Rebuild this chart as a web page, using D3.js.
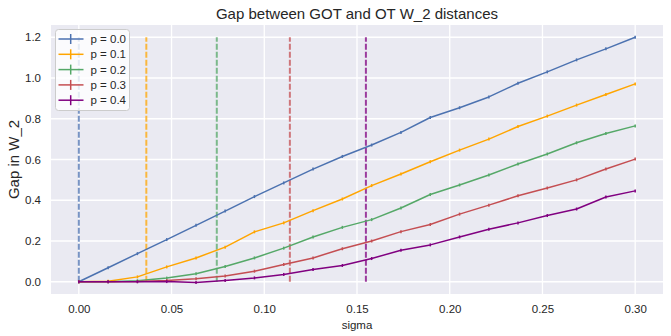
<!DOCTYPE html>
<html>
<head>
<meta charset="utf-8">
<title>Gap between GOT and OT W_2 distances</title>
<style>
  body { margin: 0; background: #ffffff; }
  text { font-family: "Liberation Sans", Arial, sans-serif; fill: #262626; }
</style>
</head>
<body>
<div id="container"></div>

<script src="https://d3js.org/d3.v7.min.js"></script>
<script>

// chart size and plot box
const width = 671;
const height = 336;
const margin = {left: 51, top: 25, right: 8, bottom: 42};

// sigma values (20 points from 0 to 0.3)
const sigmas = [0, 0.0158, 0.0316, 0.0474, 0.0632, 0.0789, 0.0947, 0.1105, 0.1263, 0.1421,
                0.1579, 0.1737, 0.1895, 0.2053, 0.2211, 0.2368, 0.2526, 0.2684, 0.2842, 0.3];

const labels = ["p = 0.0", "p = 0.1", "p = 0.2", "p = 0.3", "p = 0.4"];
const colors = ["#4c72b0", "#ffa500", "#55a868", "#c44e52", "#800080"];

const gap0 = [0, 0.069, 0.138, 0.207, 0.277, 0.347, 0.418, 0.485, 0.553, 0.615,
              0.671, 0.733, 0.806, 0.854, 0.907, 0.974, 1.030, 1.089, 1.143, 1.2];
const gap1 = [0, 0.002, 0.024, 0.073, 0.117, 0.170, 0.245, 0.289, 0.349, 0.406,
              0.472, 0.529, 0.589, 0.646, 0.700, 0.762, 0.813, 0.867, 0.919, 0.971];
const gap2 = [0, 0, 0.005, 0.018, 0.039, 0.075, 0.117, 0.165, 0.220, 0.267,
              0.305, 0.362, 0.428, 0.475, 0.524, 0.578, 0.627, 0.682, 0.728, 0.765];
const gap3 = [0, 0, 0.001, 0.006, 0.015, 0.028, 0.052, 0.085, 0.117, 0.162,
              0.200, 0.246, 0.281, 0.332, 0.376, 0.422, 0.460, 0.500, 0.553, 0.602];
const gap4 = [0, 0, 0, 0.001, -0.004, 0.006, 0.019, 0.036, 0.060, 0.080,
              0.114, 0.155, 0.181, 0.220, 0.258, 0.289, 0.325, 0.357, 0.416, 0.446];
const gaps = [gap0, gap1, gap2, gap3, gap4];

// critical sigma for each p (vertical dashed lines)
const critSigma = [0, 0.0364, 0.0744, 0.1138, 0.1548];

const xTicks = [0, 0.05, 0.10, 0.15, 0.20, 0.25, 0.30];
const yTicks = [0, 0.2, 0.4, 0.6, 0.8, 1.0, 1.2];

const innerW = width - margin.left - margin.right;
const innerH = height - margin.top - margin.bottom;

const x = d3.scaleLinear().domain([-0.015, 0.315]).range([0, innerW]);
const y = d3.scaleLinear().domain([-0.06, 1.26]).range([innerH, 0]);

const svg = d3.select("#container")
  .append("svg")
    .attr("width", width)
    .attr("height", height);

svg.append("text")
    .attr("x", margin.left + innerW / 2)
    .attr("y", 19)
    .attr("text-anchor", "middle")
    .style("font-size", "15px")
    .text("Gap between GOT and OT W_2 distances");

const g = svg.append("g")
    .attr("transform", `translate(${margin.left},${margin.top})`);

g.append("rect")
    .attr("width", innerW)
    .attr("height", innerH)
    .attr("fill", "#eaeaf2");

// grid
g.selectAll(".xgrid")
  .data(xTicks)
  .enter().append("line")
    .attr("x1", d => x(d)).attr("x2", d => x(d))
    .attr("y1", 0).attr("y2", innerH)
    .attr("stroke", "#ffffff").attr("stroke-width", 1.3);

g.selectAll(".ygrid")
  .data(yTicks)
  .enter().append("line")
    .attr("y1", d => y(d)).attr("y2", d => y(d))
    .attr("x1", 0).attr("x2", innerW)
    .attr("stroke", "#ffffff").attr("stroke-width", 1.3);

// axes (no tick marks, seaborn style)
const xAxis = g.append("g")
    .attr("transform", `translate(0,${innerH})`)
    .call(d3.axisBottom(x).tickValues(xTicks).tickFormat(d3.format(".2f")).tickSize(0).tickPadding(11));
const yAxis = g.append("g")
    .call(d3.axisLeft(y).tickValues(yTicks).tickFormat(d3.format(".1f")).tickSize(0).tickPadding(10));
[xAxis, yAxis].forEach(a => {
  a.select(".domain").remove();
  a.selectAll("text").style("font-size", "11.5px").style("fill", "#262626")
    .style("font-family", "Liberation Sans, Arial, sans-serif");
});

svg.append("text")
    .attr("x", margin.left + innerW / 2)
    .attr("y", 329)
    .attr("text-anchor", "middle")
    .style("font-size", "11.5px")
    .text("sigma");

svg.append("text")
    .attr("transform", `translate(19,${margin.top + y(0.6)}) rotate(-90)`)
    .attr("text-anchor", "middle")
    .style("font-size", "15px")
    .text("Gap in W_2");

// vertical dashed lines
g.selectAll(".crit")
  .data(critSigma)
  .enter().append("line")
    .attr("x1", d => x(d)).attr("x2", d => x(d))
    .attr("y1", y(0)).attr("y2", y(1.2))
    .attr("stroke", (d, i) => colors[i])
    .attr("stroke-opacity", 0.75)
    .attr("stroke-width", 2)
    .attr("stroke-dasharray", "6,2");

// series lines
const line = d3.line()
  .x((d, i) => x(sigmas[i]))
  .y(d => y(d));

gaps.forEach((s, k) => {
  g.append("path")
      .attr("d", line(s))
      .attr("fill", "none")
      .attr("stroke", colors[k])
      .attr("stroke-width", 1.5)
      .attr("stroke-linejoin", "round");

  // tiny error bars at each point
  g.selectAll(".eb" + k)
    .data(s)
    .enter().append("line")
      .attr("x1", (d, i) => x(sigmas[i])).attr("x2", (d, i) => x(sigmas[i]))
      .attr("y1", d => y(d) - 1.5).attr("y2", d => y(d) + 1.5)
      .attr("stroke", colors[k])
      .attr("stroke-width", 1.5);
});

// legend
const leg = svg.append("g").attr("transform", "translate(55.5,29.5)");
leg.append("rect")
    .attr("width", 74)
    .attr("height", 81)
    .attr("rx", 3)
    .attr("fill", "#ffffff")
    .attr("fill-opacity", 0.8)
    .attr("stroke", "#cccccc")
    .attr("stroke-width", 1);

labels.forEach((lab, k) => {
  const row = leg.append("g").attr("transform", `translate(0,${9.5 + k * 15.3})`);
  row.append("line")
      .attr("x1", 3).attr("x2", 28).attr("y1", 0).attr("y2", 0)
      .attr("stroke", colors[k]).attr("stroke-width", 1.5);
  row.append("line")
      .attr("x1", 15.2).attr("x2", 15.2).attr("y1", -5).attr("y2", 5)
      .attr("stroke", colors[k]).attr("stroke-width", 1.5);
  row.append("text")
      .attr("x", 35)
      .attr("y", 4)
      .style("font-size", "11.5px")
      .text(lab);
});

</script>
</body>
</html>
